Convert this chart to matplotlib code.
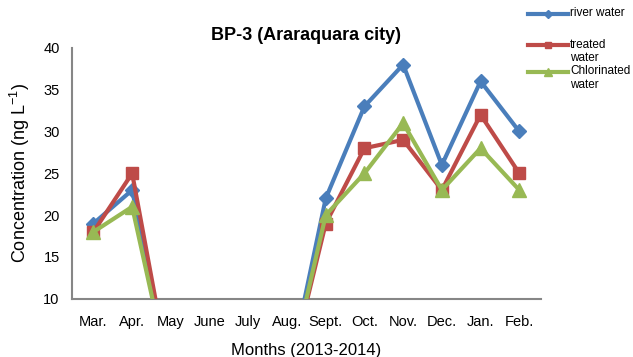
import numpy as np
import matplotlib
matplotlib.use('Agg')
import matplotlib.pyplot as plt
from matplotlib.lines import Line2D

plt.rcParams['font.family'] = ['Liberation Sans', 'DejaVu Sans']
plt.rcParams['mathtext.default'] = 'regular'

months = ['Mar.', 'Apr.', 'May', 'June', 'July', 'Aug.', 'Sept.', 'Oct.', 'Nov.', 'Dec.', 'Jan.', 'Feb.']
river = [19, 23, 0, 0, 0, 0, 22, 33, 38, 26, 36, 30]
treated = [18, 25, 0, 0, 0, 0, 19, 28, 29, 23, 32, 25]
chlorinated = [18, 21, 0, 0, 0, 0, 20, 25, 31, 23, 28, 23]

series = [
    ('river water', river, '#4A7EBB', 'D', 7),
    ('treated\nwater', treated, '#BE4B48', 's', 9),
    ('Chlorinated\nwater', chlorinated, '#98B954', '^', 10),
]

x = np.arange(len(months))

fig = plt.figure(figsize=(6.33, 3.57), dpi=100)
ax = fig.add_axes([0.114, 0.163, 0.74, 0.703])

for i, (name, vals, col, mk, ms) in enumerate(series):
    ax.plot(x, vals, color=col, lw=3, marker=mk, ms=ms, zorder=3 + i)

ax.set_ylim(10, 40)
ax.set_xlim(-0.55, 11.55)
ax.set_yticks([10, 15, 20, 25, 30, 35, 40])
ax.set_xticks(x)
ax.set_xticklabels(months)
ax.tick_params(axis='both', length=0, labelsize=10.5)
ax.tick_params(axis='x', pad=12)
ax.tick_params(axis='y', pad=9)

for s in ['top', 'right']:
    ax.spines[s].set_visible(False)
for s in ['left', 'bottom']:
    ax.spines[s].set_color('#868686')
    ax.spines[s].set_linewidth(1.5)

ax.set_title('BP-3 (Araraquara city)', fontsize=13, fontweight='bold', pad=6)
ax.set_xlabel('Months (2013-2014)', fontsize=12, labelpad=10)
ax.set_ylabel('Concentration (ng L$^{-1}$)', fontsize=13, labelpad=8)

# legend drawn by hand so the key sits beside the first line of each label
W, H = 633.0, 357.0
key_y = [14, 45, 72]
for (name, vals, col, mk, ms), yp in zip(series, key_y):
    yf = 1 - yp / H
    fig.add_artist(Line2D([528 / W, 548 / W, 568 / W], [yf, yf, yf],
                          transform=fig.transFigure, color=col, lw=3,
                          marker=mk, ms=ms * 0.55, markevery=[1]))
    fig.text(570 / W, yf + 6.5 / H, name, fontsize=8.5, va='top', ha='left',
             linespacing=1.15)

fig.savefig('out.png', dpi=100)
